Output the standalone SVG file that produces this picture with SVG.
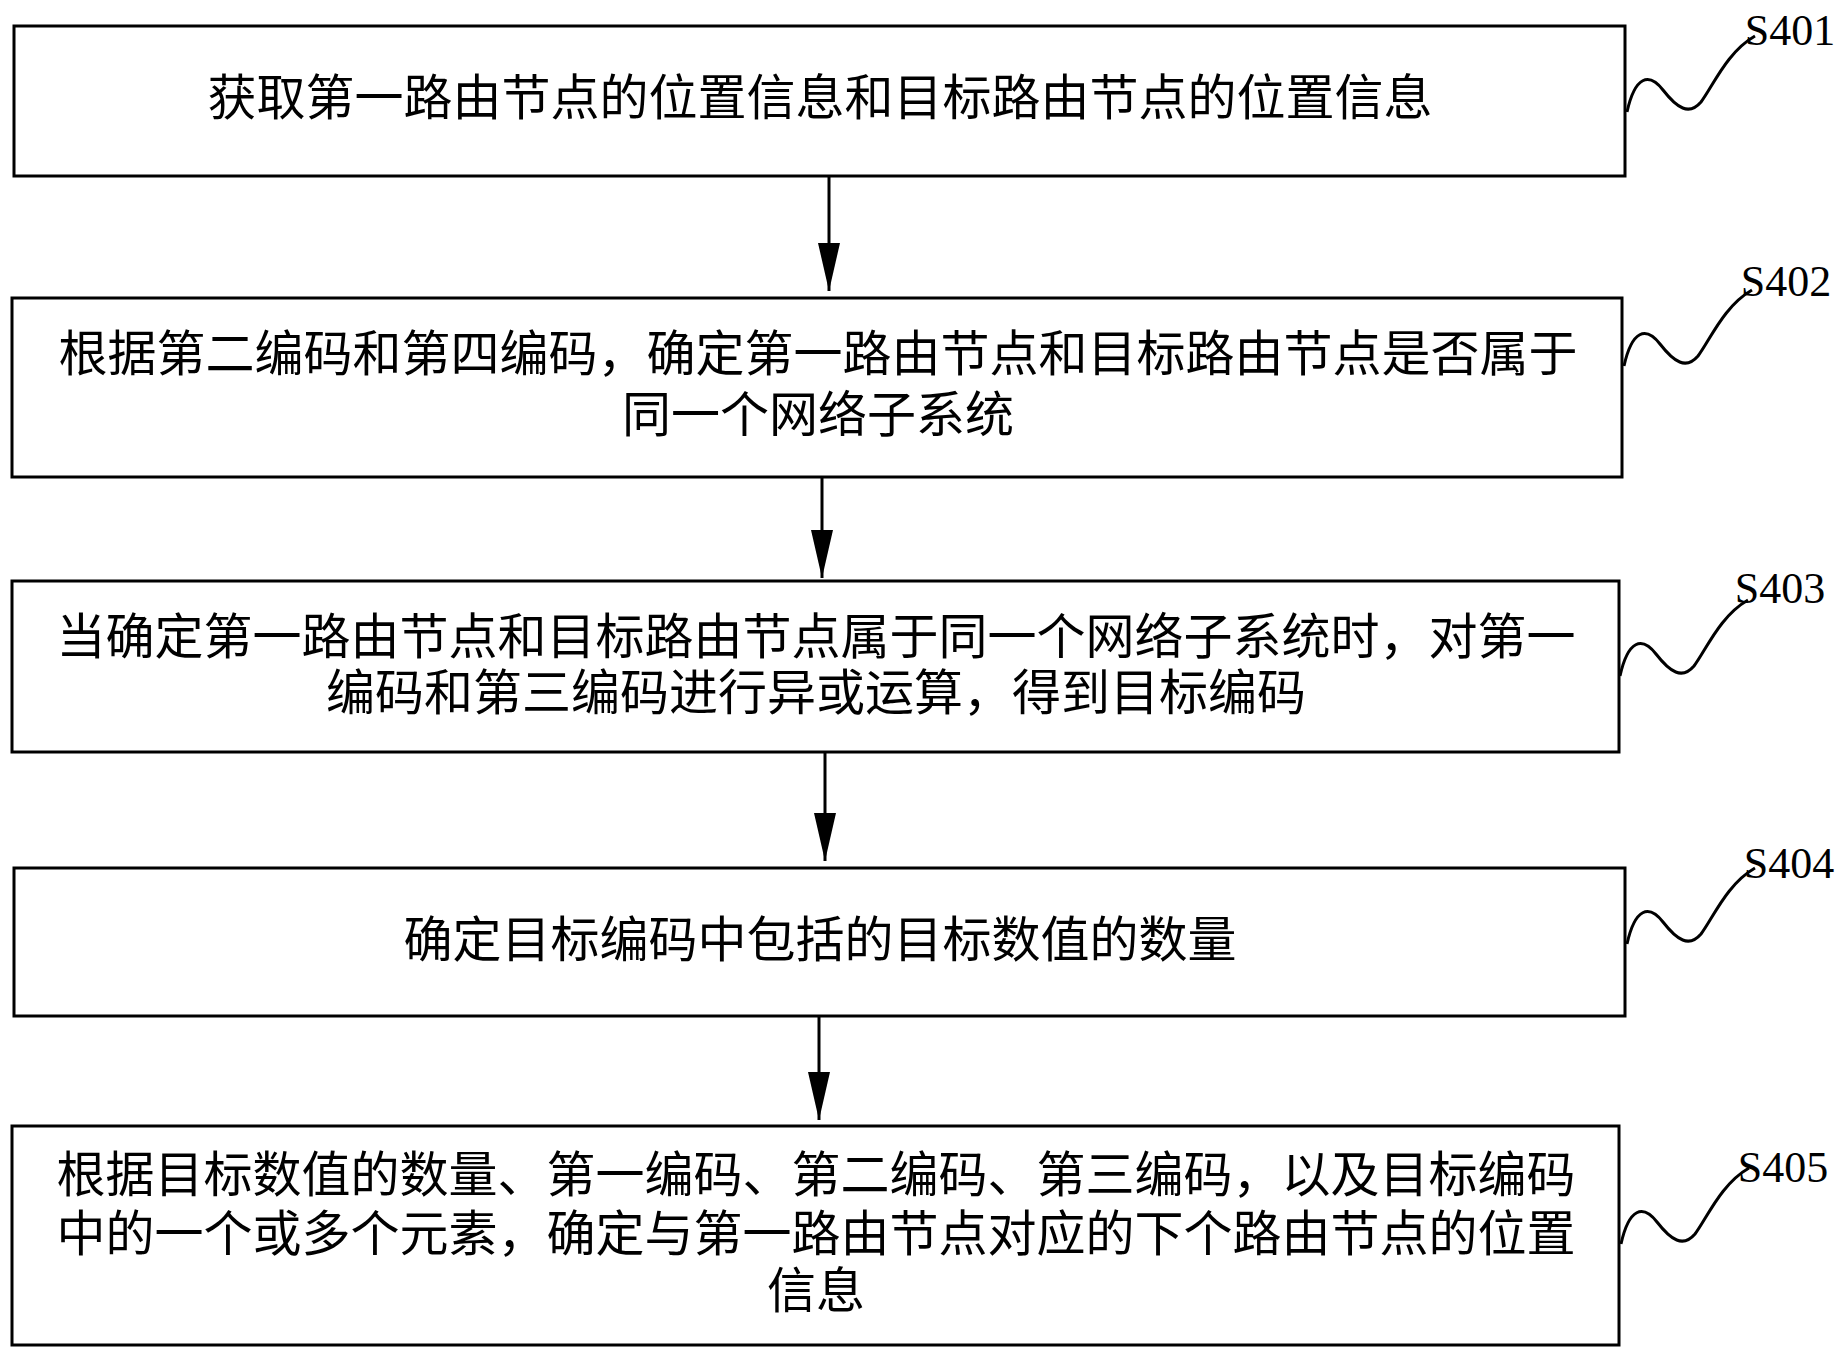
<svg xmlns="http://www.w3.org/2000/svg" width="1845" height="1356" viewBox="0 0 1845 1356">
<style>
.box{fill:#fff;stroke:#000;stroke-width:3}
.t{font-family:"Liberation Serif","Noto Sans CJK SC",serif;font-size:49px;text-anchor:middle;dominant-baseline:central;fill:#000}
.lb{font-family:"Liberation Serif",serif;font-size:44px;text-anchor:middle;dominant-baseline:central;fill:#000}
.sq{fill:none;stroke:#000;stroke-width:3}
.c{stroke:#000;stroke-width:3;fill:none}
</style>
<defs>
<marker id="ar" markerWidth="48" markerHeight="22" refX="48" refY="11" orient="auto" markerUnits="userSpaceOnUse" viewBox="0 0 48 22"><path d="M0,0 L48,11 L0,22 Z" fill="#000"/></marker>
<path id="sw" d="M0,0 C8,-36 22,-40 36,-22 C50,-4 62,4 74,-10 C86,-26 100,-60 128,-76" class="sq"/>
</defs>
<rect width="1845" height="1356" fill="#fff"/>
<g id="connectors">
<line class="c" x1="829" y1="176" x2="829" y2="291" marker-end="url(#ar)"/>
<line class="c" x1="822" y1="477" x2="822" y2="578" marker-end="url(#ar)"/>
<line class="c" x1="825" y1="752" x2="825" y2="861" marker-end="url(#ar)"/>
<line class="c" x1="819" y1="1016" x2="819" y2="1120" marker-end="url(#ar)"/>
</g>
<g id="S401"><rect class="box" x="14" y="26" width="1611" height="150"/>
<text class="t" x="820" y="98">获取第一路由节点的位置信息和目标路由节点的位置信息</text>
<use href="#sw" x="1627" y="112"/><text class="lb" x="1790" y="30">S401</text></g>
<g id="S402"><rect class="box" x="12" y="298" width="1610" height="179"/>
<text class="t" x="818" y="354">根据第二编码和第四编码，确定第一路由节点和目标路由节点是否属于</text>
<text class="t" x="818" y="415">同一个网络子系统</text>
<use href="#sw" x="1624" y="366"/><text class="lb" x="1786" y="281">S402</text></g>
<g id="S403"><rect class="box" x="12" y="581" width="1607" height="171"/>
<text class="t" x="816" y="637">当确定第一路由节点和目标路由节点属于同一个网络子系统时，对第一</text>
<text class="t" x="816" y="693">编码和第三编码进行异或运算，得到目标编码</text>
<use href="#sw" x="1620" y="676"/><text class="lb" x="1780" y="588">S403</text></g>
<g id="S404"><rect class="box" x="14" y="868" width="1611" height="148"/>
<text class="t" x="820" y="940">确定目标编码中包括的目标数值的数量</text>
<use href="#sw" x="1627" y="944"/><text class="lb" x="1789" y="863">S404</text></g>
<g id="S405"><rect class="box" x="12" y="1126" width="1607" height="219"/>
<text class="t" x="816" y="1175">根据目标数值的数量、第一编码、第二编码、第三编码，以及目标编码</text>
<text class="t" x="816" y="1234">中的一个或多个元素，确定与第一路由节点对应的下个路由节点的位置</text>
<text class="t" x="816" y="1291">信息</text>
<use href="#sw" x="1621" y="1244"/><text class="lb" x="1783" y="1167">S405</text></g>
</svg>
